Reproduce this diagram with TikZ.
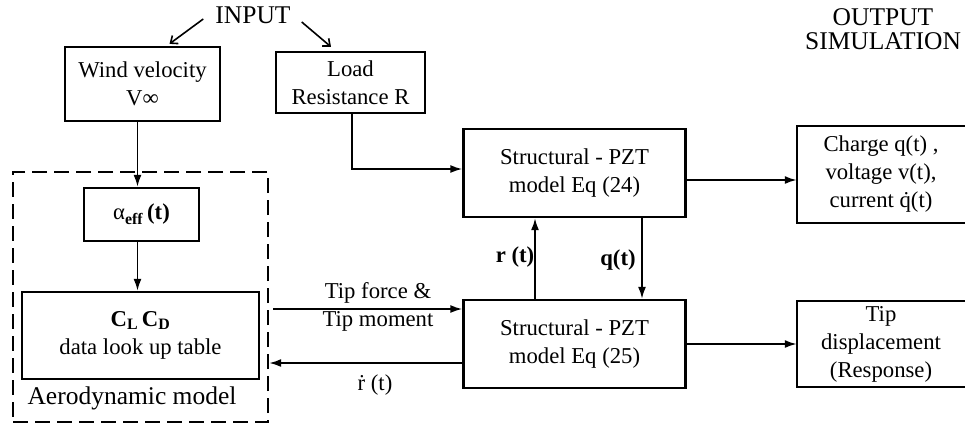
\documentclass[tikz,border=0pt]{standalone}
\usepackage{fontspec}
\setmainfont{Liberation Serif}
\usetikzlibrary{arrows.meta,calc}
\begin{document}
\begin{tikzpicture}[x=1pt,y=-1pt,
  every node/.style={font=\fontsize{22.7}{28}\selectfont, inner sep=0pt, align=center},
  box/.style={draw, line width=2.3pt},
  arr/.style={line width=1.9pt, -{Latex[length=12pt,width=8pt]}},
  inarr/.style={line width=1.6pt, -{Straight Barb[length=6pt,width=10pt]}},
  big/.style={font=\fontsize{25.5}{24}\selectfont},
  dbox/.style={draw, line width=2.3pt, dash pattern=on 15pt off 7pt},
  bl/.style={font=\fontsize{22.7}{28}\selectfont\bfseries}
]
\useasboundingbox (0,0) rectangle (965,429);

% titles
\node[big] (input) at (253,15) {INPUT};
\node[big] (output) at (883,29) {OUTPUT\\SIMULATION};

% input boxes
\node[box, minimum width=155pt, minimum height=74pt] (wind) at (142.5,84) {Wind velocity\\V∞};
\node[box, minimum width=149pt, minimum height=61pt] (load) at (350.5,82.5) {Load\\Resistance R};

% aerodynamic model
\node[dbox, minimum width=255pt, minimum height=250pt] (aero) at (140.5,297) {};
\node[box, minimum width=115pt, minimum height=53pt] (alpha) at (141.5,214.5) {α\textsubscript{\textbf{eff}}\,\textbf{(t)}};
\node[box, minimum width=237pt, minimum height=87pt] (cl) at (140.5,335.5) {\textbf{C\textsubscript{L}\,C\textsubscript{D}}\\data look up table};
\node[big] (aerolbl) at (132,398) {Aerodynamic model};

% structural models
\node[box, minimum width=222pt, minimum height=88pt] (s24) at (574.5,173) {Structural - PZT\\model Eq (24)};
\node[box, minimum width=222pt, minimum height=88pt] (s25) at (574.5,344) {Structural - PZT\\model Eq (25)};

% outputs (open on the right side)
\node[minimum width=168pt, minimum height=97pt] (ch) at (881,174.5) {Charge q(t) ,\\voltage v(t),\\current \.{q}(t)};
\draw[line width=2.3pt] (ch.north east) -- (ch.north west) -- (ch.south west) -- (ch.south east);
\node[minimum width=168pt, minimum height=86pt] (tipd) at (881,344) {Tip\\displacement\\(Response)};
\draw[line width=2.3pt] (tipd.north east) -- (tipd.north west) -- (tipd.south west) -- (tipd.south east);

% input arrows
\draw[inarr] ([xshift=-12pt,yshift=-4pt]input.west) -- ([xshift=27pt,yshift=2pt]wind.north);
\draw[inarr] ([xshift=11pt,yshift=-7pt]input.east) -- ([xshift=-19.5pt,yshift=4pt]load.north);

% aero chain
\draw[arr] ([xshift=-5pt]wind.south) -- ([xshift=-5pt]wind.south |- alpha.north);
\draw[arr] ([xshift=-4pt]alpha.south) -- ([xshift=-4pt]alpha.south |- cl.north);

% load to s24
\draw[arr] ([xshift=1.5pt]load.south) |- ([yshift=4pt]s24.west);

% s24 to charge
\draw[arr] ([yshift=-7pt]s24.east) -- ([yshift=-7pt]s24.east -| ch.west);
% s25 to tip
\draw[arr] (s25.east) -- (s25.east -| tipd.west);

% coupling between s24 and s25
\draw[arr] ([xshift=-39.5pt]s25.north) -- ([xshift=-39.5pt]s25.north |- s24.south);
\draw[arr] ([xshift=67.5pt]s24.south) -- ([xshift=67.5pt]s24.south |- s25.north);
\node[bl] (rt) at (515,257) {r (t)};
\node[bl] (qt) at (618,260) {q(t)};

% aero <-> structure
\coordinate (tfend) at ([yshift=35pt]s25.west);
\path (aero.east |- tfend) coordinate (tfstart);
\draw[arr] ([xshift=4pt]tfstart) -- (tfend);
\coordinate (rdstart) at ([yshift=-19pt]s25.west);
\draw[arr] (rdstart) -- (rdstart -| aero.east);
\node (tflbl) at (378,307) {Tip force \&\\Tip moment};
\node (rdlbl) at (375,385) {\.{r} (t)};
\end{tikzpicture}
\end{document}
